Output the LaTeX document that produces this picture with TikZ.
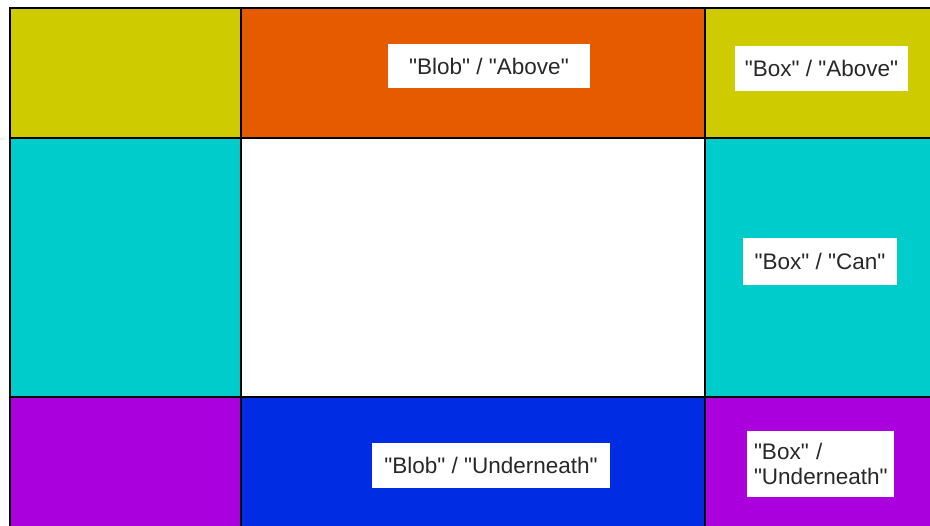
\documentclass[tikz,border=0pt]{standalone}
\usepackage{fontspec}
\setmainfont{Liberation Sans}
\newfontfamily\lblfont{Liberation Sans}
\definecolor{cyel}{RGB}{206,204,0}
\definecolor{corg}{RGB}{230,90,0}
\definecolor{ccya}{RGB}{0,204,204}
\definecolor{cpur}{RGB}{170,0,222}
\definecolor{cblu}{RGB}{0,44,228}
\definecolor{ctxt}{RGB}{40,40,40}
\tikzset{
  cell/.style={draw=black, line width=1.3pt},
  lbl/.style={fill=white, inner sep=0pt, text=ctxt, font=\lblfont\fontsize{22.5}{25}\selectfont, align=left}
}
\begin{document}
\begin{tikzpicture}[x=1pt,y=-1pt]
\useasboundingbox (0,0) rectangle (930,526);
\fill[white] (0,0) rectangle (930,526);
\clip (0,0) rectangle (930,526);
% cells
\fill[cyel] (10,8) rectangle (241,138);
\fill[corg] (241,8) rectangle (705,138);
\fill[cyel] (705,8) rectangle (935,138);
\fill[ccya] (10,138) rectangle (241,397);
\fill[white] (241,138) rectangle (705,397);
\fill[ccya] (705,138) rectangle (935,397);
\fill[cpur] (10,397) rectangle (241,530);
\fill[cblu] (241,397) rectangle (705,530);
\fill[cpur] (705,397) rectangle (935,530);
% grid lines
\draw[cell] (10,8) rectangle (935,530);
\draw[cell] (241,8) -- (241,530);
\draw[cell] (705,8) -- (705,530);
\draw[cell] (10,138) -- (935,138);
\draw[cell] (10,397) -- (935,397);
% labels
\node[lbl, minimum width=202pt, minimum height=44pt] (blobabove) at (489,66) {"Blob" / "Above"};
\node[lbl, minimum width=173pt, minimum height=45pt] (boxabove) at (821.5,68.5) {"Box" / "Above"};
\node[lbl, minimum width=154pt, minimum height=47pt] (boxcan) at (820,261.5) {"Box" / "Can"};
\node[lbl, minimum width=238pt, minimum height=45pt] (blobunder) at (491,465.5) {"Blob" / "Underneath"};
\node[lbl, minimum width=147pt, minimum height=66pt, text width=133pt] (boxunder) at (820.5,464) {"Box" /\\"Underneath"};
\end{tikzpicture}
\end{document}
